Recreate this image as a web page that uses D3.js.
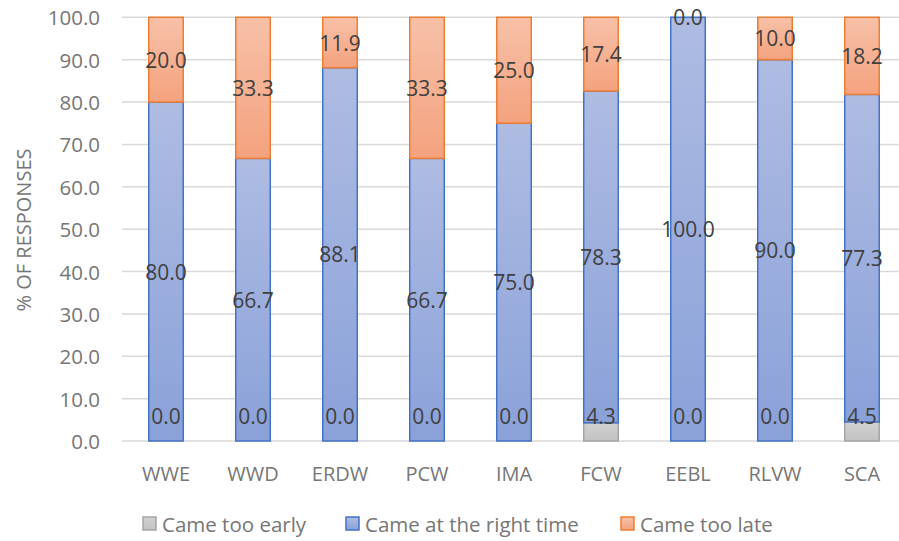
<!DOCTYPE html>
<html><head><meta charset="utf-8">
<script src="https://cdn.jsdelivr.net/npm/d3@7"></script>
<style>body{margin:0;background:#fff}svg{display:block}text{font-family:"Open Sans",sans-serif}</style>
</head><body><svg id="c" width="899" height="541"></svg>
<script>
const categories = ["WWE","WWD","ERDW","PCW","IMA","FCW","EEBL","RLVW","SCA"];
const earlyValues = [0,0,0,0,0,4.3,0,0,4.5];
const rightValues = [80,66.7,88.1,66.7,75,78.3,100,90,77.3];
const lateValues = [20,33.3,11.9,33.3,25,17.4,0,10,18.2];
const yTicks = [0,10,20,30,40,50,60,70,80,90,100];
const seriesNames = ["Came too early","Came at the right time","Came too late"];

const svg = d3.select("#c");
const x = d3.scaleBand().domain(categories).range([122.5, 905.5]).paddingInner(0.586).paddingOuter(0.293);
const y = d3.scaleLinear().domain([0,100]).range([441,17.3]);

const defs = svg.append("defs");
const grads = [
  {id:"gE", top:"#d2d2d2", bot:"#c2c2c2", stroke:"#a5a5a5"},
  {id:"gR", top:"#aebce2", bot:"#8aa1d9", stroke:"#4472c4"},
  {id:"gL", top:"#f7c1a8", bot:"#f4a27e", stroke:"#ed7d31"}
];
grads.forEach(g=>{
  const lg = defs.append("linearGradient").attr("id",g.id).attr("x1",0).attr("y1",0).attr("x2",0).attr("y2",1);
  lg.append("stop").attr("offset","0%").attr("stop-color",g.top);
  lg.append("stop").attr("offset","100%").attr("stop-color",g.bot);
});

// gridlines
svg.append("g").selectAll("line").data(yTicks).join("line")
  .attr("x1",122).attr("x2",899).attr("y1",d=>y(d)).attr("y2",d=>y(d))
  .attr("stroke","#d9d9d9").attr("stroke-width",1.5);

// y tick labels
svg.append("g").selectAll("text").data(yTicks).join("text")
  .attr("x",100).attr("y",d=>y(d)).attr("text-anchor","end").attr("dominant-baseline","central")
  .attr("font-size",20.5).attr("fill","#767676").text(d=>d.toFixed(1));

// y title
svg.append("text").attr("transform","translate(23,230) rotate(-90)").attr("text-anchor","middle")
  .attr("dominant-baseline","central").attr("font-size",20).attr("fill","#767676").text("% OF RESPONSES");

// x labels
svg.append("g").selectAll("text").data(categories).join("text")
  .attr("x",d=>x(d)+x.bandwidth()/2).attr("y",473).attr("text-anchor","middle").attr("dominant-baseline","central")
  .attr("font-size",20).attr("fill","#767676").text(d=>d);

// stacked data
const rows = categories.map((c,i)=>({cat:c, early:earlyValues[i], right:rightValues[i], late:lateValues[i]}));
const keys = ["early","right","late"];
const stack = d3.stack().keys(keys)(rows);

const bars = svg.append("g");
stack.forEach((s,si)=>{
  const g = grads[si];
  bars.append("g").selectAll("rect").data(s.filter(d=>d[1]-d[0]>0)).join("rect")
    .attr("x",d=>x(d.data.cat)+0.75).attr("width",x.bandwidth()-1.5)
    .attr("y",d=>y(d[1])).attr("height",d=>y(d[0])-y(d[1]))
    .attr("fill","url(#"+g.id+")").attr("stroke",g.stroke).attr("stroke-width",1.5);
});

// labels
const lab = svg.append("g");
stack.forEach((s,si)=>{
  lab.append("g").selectAll("text").data(s).join("text")
    .attr("x",d=>x(d.data.cat)+x.bandwidth()/2)
    .attr("y",d=> si===0 ? y(0)-25 : y((d[0]+d[1])/2))
    .attr("text-anchor","middle").attr("dominant-baseline","central")
    .attr("font-size",21).attr("fill","#404040")
    .text(d=>(d[1]-d[0]).toFixed(1));
});

// legend
const legX = [143, 346, 621];
const leg = svg.append("g");
seriesNames.forEach((n,i)=>{
  leg.append("rect").attr("x",legX[i]).attr("y",517).attr("width",13).attr("height",13)
    .attr("fill","url(#"+grads[i].id+")").attr("stroke",grads[i].stroke).attr("stroke-width",1.5);
  leg.append("text").attr("x",legX[i]+19).attr("y",524).attr("dominant-baseline","central")
    .attr("font-size",20.5).attr("fill","#767676").text(n);
});
</script></body></html>
